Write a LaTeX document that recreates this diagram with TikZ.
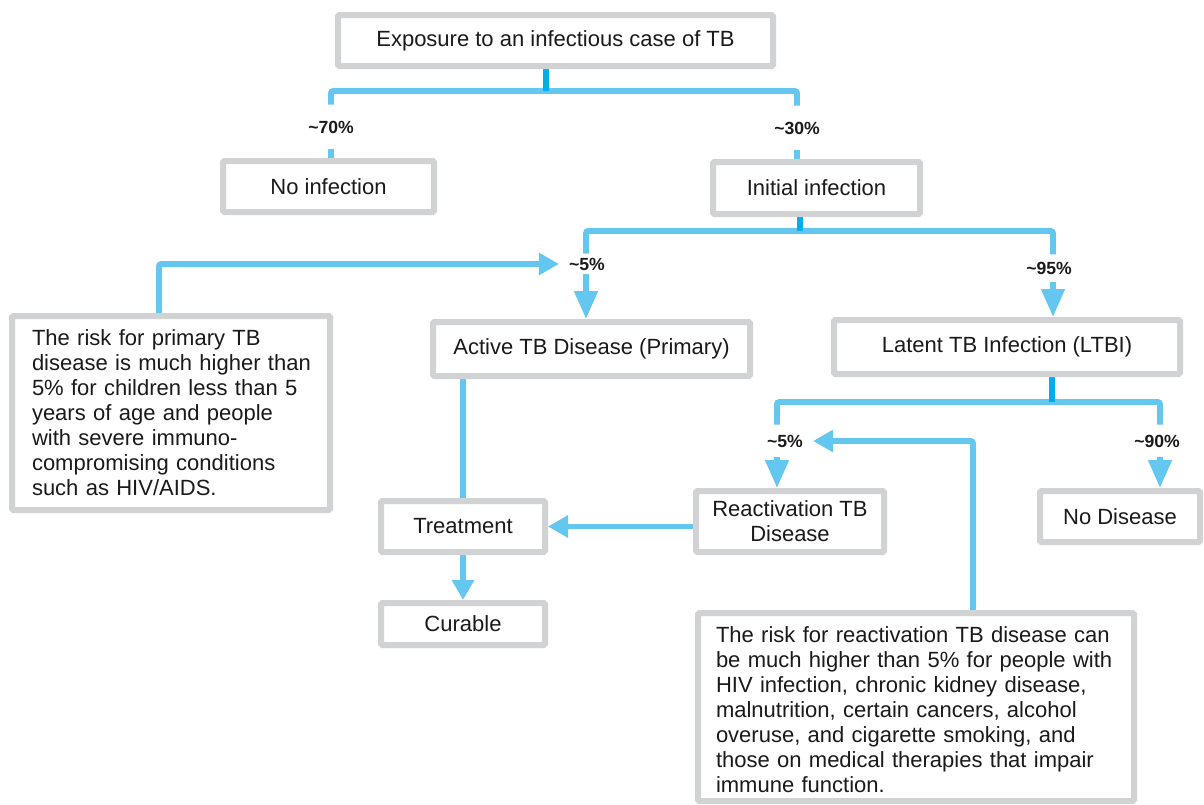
\documentclass[tikz,border=0pt]{standalone}
\usepackage{fontspec}
\setmainfont{Liberation Sans}
\usetikzlibrary{arrows.meta,backgrounds}
\definecolor{boxgray}{HTML}{D1D2D4}
\definecolor{lblue}{HTML}{63C7F0}
\definecolor{dblue}{HTML}{00AEEF}
\definecolor{txt}{HTML}{1A1A1A}
\begin{document}
\begin{tikzpicture}[x=0.75pt,y=-0.75pt,
  box/.style={draw=boxgray, line width=4.5pt, fill=white, rounded corners=1pt,
    inner sep=0pt, text=txt, font=\fontsize{16.5}{18.75}\selectfont, align=center},
  note/.style={box, align=left},
  pct/.style={font=\fontsize{13.2}{15}\selectfont\bfseries, text=txt,
    inner xsep=7.5pt, inner ysep=0pt},
  conn/.style={draw=lblue, line width=4.2pt, rounded corners=1.5pt},
  stem/.style={draw=dblue, line width=4.8pt},
  arr/.style={conn, -{Triangle[length=15pt,width=16pt]}},
  bigarr/.style={conn, -{Triangle[length=21pt,width=17pt]}}
]
\useasboundingbox (0,0) rectangle (1204,804);

% boxes
\node[box, minimum width={435*0.75pt}, minimum height={51*0.75pt}] (expo) at (555.5,40.5) {Exposure to an infectious case of TB};
\node[box, minimum width={211*0.75pt}, minimum height={51*0.75pt}] (noinf) at (328.5,186.5) {No infection};
\node[box, minimum width={207*0.75pt}, minimum height={52*0.75pt}] (initinf) at (816.5,188) {Initial infection};
\node[box, minimum width={317*0.75pt}, minimum height={54*0.75pt}] (active) at (591.5,349) {Active TB Disease (Primary)};
\node[box, minimum width={346*0.75pt}, minimum height={54*0.75pt}] (latent) at (1007,347) {Latent TB Infection (LTBI)};
\node[note, text width={278*0.75pt}, inner xsep=15pt, minimum width={318*0.75pt}, minimum height={194*0.75pt}] (primrisk) at (171,413)
  {\mbox{The risk for primary TB}\\\mbox{disease is much higher than}\\\mbox{5\% for children less than 5}\\\mbox{years of age and people}\\\mbox{with severe immuno-}\\\mbox{compromising conditions}\\\mbox{such as HIV/AIDS.}};
\node[box, minimum width={188*0.75pt}, minimum height={61*0.75pt}] (react) at (790,521.5) {Reactivation TB\\Disease};
\node[box, minimum width={160*0.75pt}, minimum height={51*0.75pt}] (nodis) at (1120,516.5) {No Disease};
\node[box, minimum width={164*0.75pt}, minimum height={51*0.75pt}] (treat) at (463,526.5) {Treatment};
\node[box, minimum width={164*0.75pt}, minimum height={42*0.75pt}] (curable) at (463,624) {Curable};
\node[note, text width={400*0.75pt}, inner xsep=13.5pt, minimum width={436*0.75pt}, minimum height={188*0.75pt}] (reactrisk) at (916,707)
  {\rule{0pt}{16pt}The risk for reactivation TB disease can\\be much higher than 5\% for people with\\HIV infection, chronic kidney disease,\\malnutrition, certain cancers, alcohol\\overuse, and cigarette smoking, and\\those on medical therapies that impair\\immune function.};

% percentage labels
\node[pct, minimum height=33pt] (p70) at (331,127) {\textasciitilde70\%};
\node[pct, minimum height=33pt] (p30) at (797,128) {\textasciitilde30\%};
\node[pct, minimum height=15pt] (p5a) at (587,264) {\textasciitilde5\%};
\node[pct, minimum height=20pt] (p95) at (1049,268) {\textasciitilde95\%};
\node[pct, minimum height=24pt] (p5b) at (785,441) {\textasciitilde5\%};
\node[pct, minimum height=24pt] (p90) at (1157,441) {\textasciitilde90\%};

\begin{pgfonlayer}{background}
\coordinate (j1) at (546,91);
\coordinate (b1L) at (331,91);
\coordinate (b1R) at (797,91);
\draw[conn] (b1L |- p70.north) -- (b1L) -- (b1R) -- (b1R |- p30.north);
\draw[conn] (b1L |- p70.south) -- (b1L |- noinf.north);
\draw[conn] (b1R |- p30.south) -- (b1R |- initinf.north);
\draw[stem] (expo.south -| j1) -- (j1);

\coordinate (b2L) at (586,231);
\coordinate (b2R) at (1053,231);
\coordinate (j2) at (800,231);
\draw[conn] (b2L |- p5a.north) -- (b2L) -- (b2R) -- (b2R |- p95.north);
\draw[bigarr] (b2L |- p5a.south) -- (b2L |- active.north);
\draw[bigarr] (b2R |- p95.south) -- (b2R |- latent.north);
\draw[stem] (initinf.south -| j2) -- (j2);
\coordinate (fbA) at (159,263);
\draw[arr] (primrisk.north -| fbA) |- (p5a.west);

\draw[conn] (active.south -| treat.north) -- (treat.north);
\draw[arr] (treat.south) -- (curable.north);
\draw[arr] (treat.east -| react.west) -- (treat.east);

\coordinate (b3L) at (777,402);
\coordinate (b3R) at (1160,402);
\coordinate (j3) at (1052,402);
\draw[conn] (b3L |- p5b.north) -- (b3L) -- (b3R) -- (b3R |- p90.north);
\draw[bigarr] (b3L |- p5b.south) -- (b3L |- react.north);
\draw[bigarr] (b3R |- p90.south) -- (b3R |- nodis.north);
\draw[stem] (latent.south -| j3) -- (j3);
\coordinate (fbB) at (973,439);
\draw[arr] (reactrisk.north -| fbB) |- (p5b.east);
\end{pgfonlayer}
\end{tikzpicture}
\end{document}
